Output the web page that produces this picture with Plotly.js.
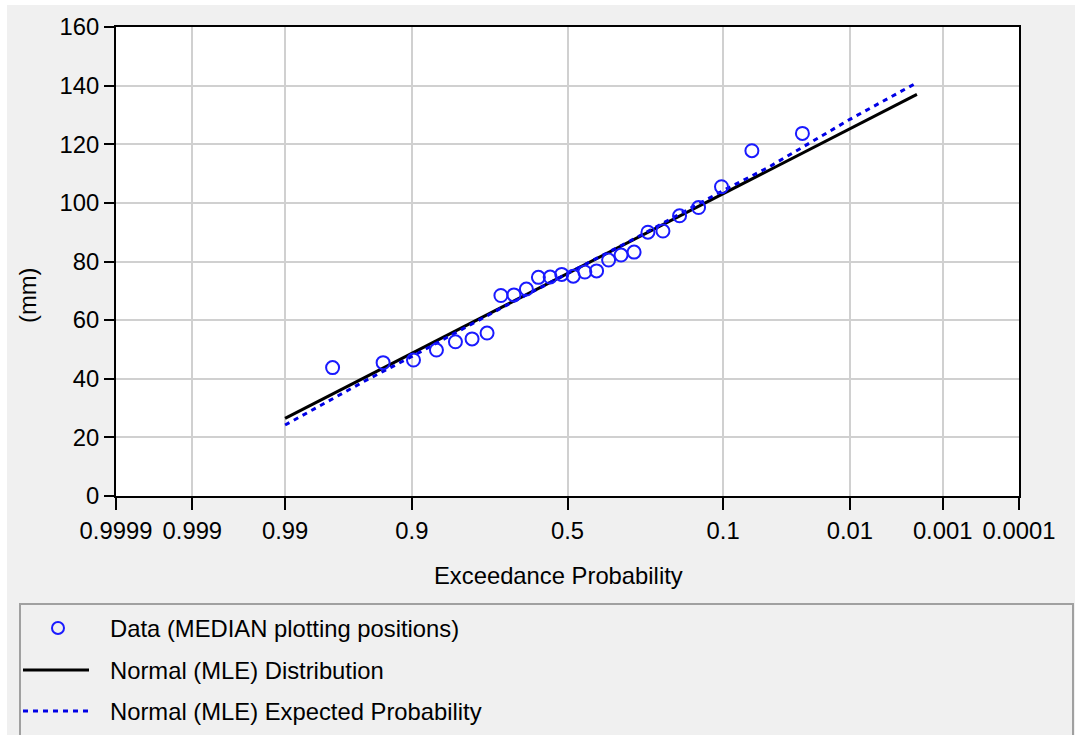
<!DOCTYPE html>
<html>
<head>
<meta charset="utf-8">
<script src="https://cdn.plot.ly/plotly-3.0.1.min.js"></script>
<style>
  html, body { margin: 0; padding: 0; background: #ffffff; width: 1075px; height: 735px; overflow: hidden; }
  #chart { position: absolute; left: 7px; top: 5px; width: 1068px; height: 730px; }
</style>
</head>
<body>
<div id="chart"></div>
<script>
// Observed annual values (mm) at their median plotting positions (exceedance probability)
const dataExceedance = [0.9735, 0.9356, 0.8977, 0.8598, 0.8220, 0.7841, 0.7462, 0.7083, 0.6705,
  0.6326, 0.5947, 0.5568, 0.5189, 0.4811, 0.4432, 0.4053, 0.3674, 0.3295, 0.2917, 0.2538,
  0.2159, 0.1780, 0.1402, 0.1023, 0.0644, 0.0265];
const dataMM = [43.8, 45.5, 46.4, 49.8, 52.6, 53.6, 55.6, 68.4, 68.6, 70.6, 74.6, 74.7, 75.6,
  75.0, 76.4, 76.8, 80.5, 82.2, 83.2, 90.0, 90.4, 95.6, 98.4, 105.5, 117.8, 123.7];

// Fitted Normal (MLE) distribution curve
const distExceedance = [0.99, 0.5, 0.002];
const distMM = [26.5, 75.9, 137.0];

// Normal (MLE) expected-probability curve
const expExceedance = [0.99, 0.95, 0.9, 0.7, 0.5, 0.3, 0.1, 0.05, 0.01, 0.002];
const expMM = [24.2, 39.8, 47.6, 64.6, 75.9, 87.2, 104.2, 111.9, 128.5, 141.0];

// Probability-axis ticks
const tickProbs = [0.9999, 0.999, 0.99, 0.9, 0.5, 0.1, 0.01, 0.001, 0.0001];
const tickLabels = ['0.9999', '0.999', '0.99', '0.9', '0.5', '0.1', '0.01', '0.001', '0.0001'];

const legendLabels = ['Data (MEDIAN plotting positions)', 'Normal (MLE) Distribution',
  'Normal (MLE) Expected Probability'];

// Standard normal quantile of the non-exceedance probability (Acklam's approximation):
// maps exceedance probability onto the linear normal-probability scale.
function normZ(exceed) {
  const p = 1 - exceed;
  const a = [-3.969683028665376e+01, 2.209460984245205e+02, -2.759285104469687e+02,
    1.383577518672690e+02, -3.066479806614716e+01, 2.506628277459239e+00];
  const b = [-5.447609879822406e+01, 1.615858368580409e+02, -1.556989798598866e+02,
    6.680131188771972e+01, -1.328068155288572e+01];
  const c = [-7.784894002430293e-03, -3.223964580411365e-01, -2.400758277161838e+00,
    -2.549732539343734e+00, 4.374664141464968e+00, 2.938163982698783e+00];
  const d = [7.784695709041462e-03, 3.224671290700398e-01, 2.445134137142996e+00,
    3.754408661907416e+00];
  const pl = 0.02425, ph = 1 - pl;
  let q, r;
  if (p < pl) {
    q = Math.sqrt(-2 * Math.log(p));
    return (((((c[0]*q+c[1])*q+c[2])*q+c[3])*q+c[4])*q+c[5]) / ((((d[0]*q+d[1])*q+d[2])*q+d[3])*q+1);
  } else if (p <= ph) {
    q = p - 0.5; r = q * q;
    return (((((a[0]*r+a[1])*r+a[2])*r+a[3])*r+a[4])*r+a[5])*q / (((((b[0]*r+b[1])*r+b[2])*r+b[3])*r+b[4])*r+1);
  } else {
    q = Math.sqrt(-2 * Math.log(1 - p));
    return -(((((c[0]*q+c[1])*q+c[2])*q+c[3])*q+c[4])*q+c[5]) / ((((d[0]*q+d[1])*q+d[2])*q+d[3])*q+1);
  }
}

// Plot-area geometry in page pixels, used to place the hand-drawn legend and titles
const plotLeft = 116, plotRight = 1019, plotTop = 27, plotBottom = 496;
const px = x => (x - plotLeft) / (plotRight - plotLeft);
const py = y => (plotBottom - y) / (plotBottom - plotTop);

const FONT = 'Liberation Sans, Arial, sans-serif';
const FS = 23.8;
const BLUE = '#1a1aff';

const traces = [
  {
    x: distExceedance.map(normZ), y: distMM, mode: 'lines', name: legendLabels[1],
    line: { color: '#000000', width: 3 }, hoverinfo: 'skip'
  },
  {
    x: expExceedance.map(normZ), y: expMM, mode: 'lines', name: legendLabels[2],
    line: { color: '#0000e6', width: 3, dash: '5px,5px' }, hoverinfo: 'skip'
  },
  {
    x: dataExceedance.map(normZ), y: dataMM, mode: 'markers', name: legendLabels[0],
    marker: { symbol: 'circle-open', size: 13, color: BLUE, line: { color: BLUE, width: 2 } }
  }
];

const rows = [628, 670, 711];
const legendX0 = 23, legendX1 = 89;

const shapes = [
  // legend panel
  { type: 'rect', xref: 'paper', yref: 'paper', x0: px(20), x1: px(1073), y0: py(604), y1: py(760),
    line: { color: '#a0a0a0', width: 2 }, fillcolor: '#f0f0f0', layer: 'below' },
  // legend symbols
  { type: 'circle', xref: 'paper', yref: 'paper', xsizemode: 'pixel', ysizemode: 'pixel',
    xanchor: px(58), yanchor: py(rows[0]), x0: -6, x1: 6, y0: -6, y1: 6,
    line: { color: BLUE, width: 2 } },
  { type: 'line', xref: 'paper', yref: 'paper', x0: px(legendX0), x1: px(legendX1),
    y0: py(rows[1]), y1: py(rows[1]), line: { color: '#000000', width: 3 } },
  { type: 'line', xref: 'paper', yref: 'paper', x0: px(legendX0), x1: px(legendX1),
    y0: py(rows[2]), y1: py(rows[2]), line: { color: '#0000e6', width: 3, dash: '5px,5px' } }
];

const annotations = [
  { text: 'Exceedance Probability', xref: 'paper', yref: 'paper', x: px(558), y: py(575),
    showarrow: false, xanchor: 'center', yanchor: 'middle', font: { family: FONT, size: FS, color: '#000' } },
  { text: '(mm)', xref: 'paper', yref: 'paper', x: px(27), y: py(295), textangle: -90,
    showarrow: false, xanchor: 'center', yanchor: 'middle', font: { family: FONT, size: FS, color: '#000' } }
].concat(legendLabels.map((t, i) => ({
  text: t, xref: 'paper', yref: 'paper', x: px(108), y: py(rows[i]), showarrow: false,
  xanchor: 'left', yanchor: 'middle', font: { family: FONT, size: FS, color: '#000' }
})));

const layout = {
  width: 1068, height: 730,
  margin: { l: 109, r: 56, t: 22, b: 239, pad: 0 },
  paper_bgcolor: '#f0f0f0', plot_bgcolor: '#ffffff',
  showlegend: false,
  font: { family: FONT, size: FS, color: '#000' },
  xaxis: {
    range: [normZ(0.9999), normZ(0.0001)],
    tickmode: 'array', tickvals: tickProbs.map(normZ), ticktext: tickLabels,
    ticks: 'outside', ticklen: 12, tickwidth: 2, tickcolor: '#000',
    showline: true, linecolor: '#000', linewidth: 2, mirror: true,
    showgrid: true, gridcolor: '#d0d0d0', gridwidth: 2, zeroline: false,
    tickfont: { family: FONT, size: FS, color: '#000' }, fixedrange: true
  },
  yaxis: {
    range: [0, 160], tickmode: 'linear', tick0: 0, dtick: 20,
    ticks: 'outside', ticklen: 10, tickwidth: 2, tickcolor: '#000',
    showline: true, linecolor: '#000', linewidth: 2, mirror: true,
    showgrid: true, gridcolor: '#d0d0d0', gridwidth: 2, zeroline: false,
    tickfont: { family: FONT, size: FS, color: '#000' }, fixedrange: true
  },
  shapes: shapes,
  annotations: annotations
};

Plotly.newPlot('chart', traces, layout, { staticPlot: true, displayModeBar: false });
</script>
</body>
</html>
